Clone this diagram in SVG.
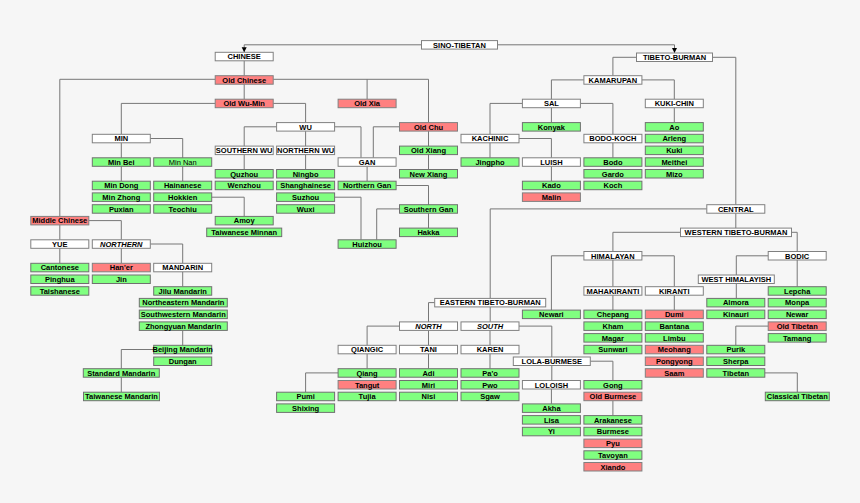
<svg xmlns="http://www.w3.org/2000/svg" width="860" height="503" viewBox="0 0 860 503">
<style>
.w{fill:#ffffff;stroke:#808080;stroke-width:1}
.g{fill:#80ff80;stroke:#707070;stroke-width:1}
.r{fill:#ff8080;stroke:#808080;stroke-width:1}
text{font-family:"Liberation Sans",Arial,sans-serif;font-size:7.5px;font-weight:bold;text-anchor:middle;fill:#000}
.i{font-style:italic}
.n{font-weight:normal}
#connectors path{fill:none;stroke:#777;stroke-width:1}
</style>
<defs>
<marker id="arr" markerUnits="userSpaceOnUse" markerWidth="6" markerHeight="6" refX="5" refY="2.5" orient="auto"><path d="M0,0 L5,2.5 L0,5 z" fill="#000"/></marker>
</defs>
<rect x="0" y="0" width="860" height="503" fill="#f6f6f6"/>
<g id="connectors">
<path d="M421.5,44.8 H244.2 V52.3" marker-end="url(#arr)"/>
<path d="M497.5,44.8 H674.5 V53" marker-end="url(#arr)"/>
<path d="M244.2,60.8 V75.7"/>
<path d="M244.2,84.2 V99.2"/>
<path d="M273.2,79.3 H428.5 V122.6"/>
<path d="M367.1,79.3 V99.2"/>
<path d="M215.2,79.3 H59.8 V216.4"/>
<path d="M215.2,103.4 H121.3 V134.3"/>
<path d="M273.2,103.4 H305.6 V122.6"/>
<path d="M276.6,126.8 H244.2 V146.1"/>
<path d="M305.6,131.1 V146.1"/>
<path d="M334.6,126.8 H361 V157.8"/>
<path d="M399.5,126.8 H373.3 V157.8"/>
<path d="M428.5,131.1 V169.5"/>
<path d="M121.3,142.8 V181.2"/>
<path d="M150.3,138.5 H182.7 V181.2"/>
<path d="M244.2,154.6 V169.5"/>
<path d="M305.6,154.6 V169.5"/>
<path d="M367.1,166.3 V181.2"/>
<path d="M396.1,185.5 H428.5 V228.1"/>
<path d="M211.7,197.2 H244.2 V216.4"/>
<path d="M334.6,197.2 H361 V239.8"/>
<path d="M399.5,208.9 H376.7 V239.8"/>
<path d="M88.8,220.6 H121.3 V239.8"/>
<path d="M59.8,224.9 V239.8"/>
<path d="M59.8,248.3 V263.3"/>
<path d="M121.3,248.3 V263.3"/>
<path d="M150.3,244 H182.7 V263.3"/>
<path d="M182.7,271.8 V286.7"/>
<path d="M182.7,330.4 V345.3"/>
<path d="M153.7,349.5 H121.3 V368.7"/>
<path d="M121.3,377.2 V392.2"/>
<path d="M636.5,57.3 H612.9 V75.7"/>
<path d="M712.5,57.3 H735.8 V204.7"/>
<path d="M583.9,79.9 H551.4 V99.2"/>
<path d="M641.9,79.9 H674.3 V99.2"/>
<path d="M674.3,107.7 V122.6"/>
<path d="M522.4,103.4 H490 V134.3"/>
<path d="M551.4,107.7 V122.6"/>
<path d="M580.4,103.4 H612.9 V134.3"/>
<path d="M490,142.8 V157.8"/>
<path d="M519,138.5 H551.4 V157.8"/>
<path d="M551.4,166.3 V181.2"/>
<path d="M612.9,142.8 V157.8"/>
<path d="M735.8,213.2 V228.1"/>
<path d="M706.8,208.9 H490.2 V298.4"/>
<path d="M680.5,232.3 H612.9 V251.5"/>
<path d="M791.5,232.3 H797.2 V251.5"/>
<path d="M583.9,255.8 H551.4 V310.1"/>
<path d="M612.9,260 V286.7"/>
<path d="M641.9,255.8 H674.3 V286.7"/>
<path d="M612.9,295.2 V310.1"/>
<path d="M674.3,295.2 V310.1"/>
<path d="M768.2,255.8 H736.3 V275"/>
<path d="M797.2,260 V286.7"/>
<path d="M736.3,283.5 V298.4"/>
<path d="M768.2,326.1 H735.8 V345.3"/>
<path d="M764.8,372.9 H797.3 V392.2"/>
<path d="M434.7,302.6 H428.5 V321.9"/>
<path d="M490.2,306.9 V321.9"/>
<path d="M399.5,326.1 H367.1 V345.3"/>
<path d="M428.5,330.4 V345.3"/>
<path d="M490,330.4 V345.3"/>
<path d="M519,326.1 H551.8 V380.5"/>
<path d="M590.3,361.2 H612.9 V380.5"/>
<path d="M551.4,389 V403.9"/>
<path d="M612.9,400.7 V415.6"/>
<path d="M367.1,353.8 V368.7"/>
<path d="M338.1,372.9 H305.6 V392.2"/>
<path d="M428.5,353.8 V368.7"/>
<path d="M490,353.8 V368.7"/>
</g>
<g id="sino-tibetan"><rect class="w" x="421.5" y="40.6" width="76" height="8.5"/><text x="459.5" y="47.6">SINO-TIBETAN</text></g>
<g id="chinese"><rect class="w" x="215.2" y="52.3" width="58" height="8.5"/><text x="244.2" y="59.3">CHINESE</text></g>
<g id="old-chinese"><rect class="r" x="215.2" y="75.7" width="58" height="8.5"/><text x="244.2" y="82.7">Old Chinese</text></g>
<g id="old-wu-min"><rect class="r" x="215.2" y="99.2" width="58" height="8.5"/><text x="244.2" y="106.2">Old Wu-Min</text></g>
<g id="old-xia"><rect class="r" x="338.1" y="99.2" width="58" height="8.5"/><text x="367.1" y="106.2">Old Xia</text></g>
<g id="wu"><rect class="w" x="276.6" y="122.6" width="58" height="8.5"/><text x="305.6" y="129.6">WU</text></g>
<g id="old-chu"><rect class="r" x="399.5" y="122.6" width="58" height="8.5"/><text x="428.5" y="129.6">Old Chu</text></g>
<g id="min"><rect class="w" x="92.3" y="134.3" width="58" height="8.5"/><text x="121.3" y="141.3">MIN</text></g>
<g id="southern-wu"><rect class="w" x="215.2" y="146.1" width="58" height="8.5"/><text x="244.2" y="153.1">SOUTHERN WU</text></g>
<g id="northern-wu"><rect class="w" x="276.6" y="146.1" width="58" height="8.5"/><text x="305.6" y="153.1">NORTHERN WU</text></g>
<g id="old-xiang"><rect class="g" x="399.5" y="146.1" width="58" height="8.5"/><text x="428.5" y="153.1">Old Xiang</text></g>
<g id="gan"><rect class="w" x="338.1" y="157.8" width="58" height="8.5"/><text x="367.1" y="164.8">GAN</text></g>
<g id="min-bei"><rect class="g" x="92.3" y="157.8" width="58" height="8.5"/><text x="121.3" y="164.8">Min Bei</text></g>
<g id="min-nan"><rect class="g" x="153.7" y="157.8" width="58" height="8.5"/><text class="n" x="182.7" y="164.8">Min Nan</text></g>
<g id="quzhou"><rect class="g" x="215.2" y="169.5" width="58" height="8.5"/><text x="244.2" y="176.5">Quzhou</text></g>
<g id="ningbo"><rect class="g" x="276.6" y="169.5" width="58" height="8.5"/><text x="305.6" y="176.5">Ningbo</text></g>
<g id="new-xiang"><rect class="g" x="399.5" y="169.5" width="58" height="8.5"/><text x="428.5" y="176.5">New Xiang</text></g>
<g id="min-dong"><rect class="g" x="92.3" y="181.2" width="58" height="8.5"/><text x="121.3" y="188.2">Min Dong</text></g>
<g id="hainanese"><rect class="g" x="153.7" y="181.2" width="58" height="8.5"/><text x="182.7" y="188.2">Hainanese</text></g>
<g id="wenzhou"><rect class="g" x="215.2" y="181.2" width="58" height="8.5"/><text x="244.2" y="188.2">Wenzhou</text></g>
<g id="shanghainese"><rect class="g" x="276.6" y="181.2" width="58" height="8.5"/><text x="305.6" y="188.2">Shanghainese</text></g>
<g id="northern-gan"><rect class="g" x="338.1" y="181.2" width="58" height="8.5"/><text x="367.1" y="188.2">Northern Gan</text></g>
<g id="min-zhong"><rect class="g" x="92.3" y="192.9" width="58" height="8.5"/><text x="121.3" y="199.9">Min Zhong</text></g>
<g id="hokkien"><rect class="g" x="153.7" y="192.9" width="58" height="8.5"/><text x="182.7" y="199.9">Hokkien</text></g>
<g id="suzhou"><rect class="g" x="276.6" y="192.9" width="58" height="8.5"/><text x="305.6" y="199.9">Suzhou</text></g>
<g id="puxian"><rect class="g" x="92.3" y="204.7" width="58" height="8.5"/><text x="121.3" y="211.7">Puxian</text></g>
<g id="teochiu"><rect class="g" x="153.7" y="204.7" width="58" height="8.5"/><text x="182.7" y="211.7">Teochiu</text></g>
<g id="wuxi"><rect class="g" x="276.6" y="204.7" width="58" height="8.5"/><text x="305.6" y="211.7">Wuxi</text></g>
<g id="southern-gan"><rect class="g" x="399.5" y="204.7" width="58" height="8.5"/><text x="428.5" y="211.7">Southern Gan</text></g>
<g id="middle-chinese"><rect class="r" x="30.8" y="216.4" width="58" height="8.5"/><text x="59.8" y="223.4">Middle Chinese</text></g>
<g id="amoy"><rect class="g" x="215.2" y="216.4" width="58" height="8.5"/><text x="244.2" y="223.4">Amoy</text></g>
<g id="taiwanese-minnan"><rect class="g" x="206.7" y="228.1" width="75" height="8.5"/><text x="244.2" y="235.1">Taiwanese Minnan</text></g>
<g id="hakka"><rect class="g" x="399.5" y="228.1" width="58" height="8.5"/><text x="428.5" y="235.1">Hakka</text></g>
<g id="yue"><rect class="w" x="30.8" y="239.8" width="58" height="8.5"/><text x="59.8" y="246.8">YUE</text></g>
<g id="northern"><rect class="w" x="92.3" y="239.8" width="58" height="8.5"/><text class="i" x="121.3" y="246.8">NORTHERN</text></g>
<g id="huizhou"><rect class="g" x="338.1" y="239.8" width="58" height="8.5"/><text x="367.1" y="246.8">Huizhou</text></g>
<g id="cantonese"><rect class="g" x="30.8" y="263.3" width="58" height="8.5"/><text x="59.8" y="270.3">Cantonese</text></g>
<g id="haner"><rect class="r" x="92.3" y="263.3" width="58" height="8.5"/><text x="121.3" y="270.3">Han'er</text></g>
<g id="mandarin"><rect class="w" x="153.7" y="263.3" width="58" height="8.5"/><text x="182.7" y="270.3">MANDARIN</text></g>
<g id="pinghua"><rect class="g" x="30.8" y="275" width="58" height="8.5"/><text x="59.8" y="282">Pinghua</text></g>
<g id="jin"><rect class="g" x="92.3" y="275" width="58" height="8.5"/><text x="121.3" y="282">Jin</text></g>
<g id="taishanese"><rect class="g" x="30.8" y="286.7" width="58" height="8.5"/><text x="59.8" y="293.7">Taishanese</text></g>
<g id="jilu-mandarin"><rect class="g" x="153.7" y="286.7" width="58" height="8.5"/><text x="182.7" y="293.7">Jilu Mandarin</text></g>
<g id="northeastern-mandarin"><rect class="g" x="139.3" y="298.4" width="88" height="8.5"/><text x="183.3" y="305.4">Northeastern Mandarin</text></g>
<g id="southwestern-mandarin"><rect class="g" x="139.3" y="310.1" width="88" height="8.5"/><text x="183.3" y="317.1">Southwestern Mandarin</text></g>
<g id="zhongyuan-mandarin"><rect class="g" x="139.3" y="321.9" width="88" height="8.5"/><text x="183.3" y="328.9">Zhongyuan Mandarin</text></g>
<g id="beijing-mandarin"><rect class="g" x="153.7" y="345.3" width="58" height="8.5"/><text x="182.7" y="352.3">Beijing Mandarin</text></g>
<g id="dungan"><rect class="g" x="153.7" y="357" width="58" height="8.5"/><text x="182.7" y="364">Dungan</text></g>
<g id="standard-mandarin"><rect class="g" x="83.3" y="368.7" width="76" height="8.5"/><text x="121.3" y="375.7">Standard Mandarin</text></g>
<g id="taiwanese-mandarin"><rect class="g" x="83.5" y="392.2" width="76" height="8.5"/><text x="121.5" y="399.2">Taiwanese Mandarin</text></g>
<g id="tibeto-burman"><rect class="w" x="636.5" y="53" width="76" height="8.5"/><text x="674.5" y="60">TIBETO-BURMAN</text></g>
<g id="kamarupan"><rect class="w" x="583.9" y="75.7" width="58" height="8.5"/><text x="612.9" y="82.7">KAMARUPAN</text></g>
<g id="sal"><rect class="w" x="522.4" y="99.2" width="58" height="8.5"/><text x="551.4" y="106.2">SAL</text></g>
<g id="kuki-chin"><rect class="w" x="645.3" y="99.2" width="58" height="8.5"/><text x="674.3" y="106.2">KUKI-CHIN</text></g>
<g id="konyak"><rect class="g" x="522.4" y="122.6" width="58" height="8.5"/><text x="551.4" y="129.6">Konyak</text></g>
<g id="ao"><rect class="g" x="645.3" y="122.6" width="58" height="8.5"/><text x="674.3" y="129.6">Ao</text></g>
<g id="kachinic"><rect class="w" x="461" y="134.3" width="58" height="8.5"/><text x="490" y="141.3">KACHINIC</text></g>
<g id="bodo-koch"><rect class="w" x="583.9" y="134.3" width="58" height="8.5"/><text x="612.9" y="141.3">BODO-KOCH</text></g>
<g id="arleng"><rect class="g" x="645.3" y="134.3" width="58" height="8.5"/><text x="674.3" y="141.3">Arleng</text></g>
<g id="kuki"><rect class="g" x="645.3" y="146.1" width="58" height="8.5"/><text x="674.3" y="153.1">Kuki</text></g>
<g id="jingpho"><rect class="g" x="461" y="157.8" width="58" height="8.5"/><text x="490" y="164.8">Jingpho</text></g>
<g id="luish"><rect class="w" x="522.4" y="157.8" width="58" height="8.5"/><text x="551.4" y="164.8">LUISH</text></g>
<g id="bodo"><rect class="g" x="583.9" y="157.8" width="58" height="8.5"/><text x="612.9" y="164.8">Bodo</text></g>
<g id="meithei"><rect class="g" x="645.3" y="157.8" width="58" height="8.5"/><text x="674.3" y="164.8">Meithei</text></g>
<g id="gardo"><rect class="g" x="583.9" y="169.5" width="58" height="8.5"/><text x="612.9" y="176.5">Gardo</text></g>
<g id="mizo"><rect class="g" x="645.3" y="169.5" width="58" height="8.5"/><text x="674.3" y="176.5">Mizo</text></g>
<g id="kado"><rect class="g" x="522.4" y="181.2" width="58" height="8.5"/><text x="551.4" y="188.2">Kado</text></g>
<g id="koch"><rect class="g" x="583.9" y="181.2" width="58" height="8.5"/><text x="612.9" y="188.2">Koch</text></g>
<g id="malin"><rect class="r" x="522.4" y="192.9" width="58" height="8.5"/><text x="551.4" y="199.9">Malin</text></g>
<g id="central"><rect class="w" x="706.8" y="204.7" width="58" height="8.5"/><text x="735.8" y="211.7">CENTRAL</text></g>
<g id="western-tibeto-burman"><rect class="w" x="680.5" y="228.1" width="111" height="8.5"/><text x="736" y="235.1">WESTERN TIBETO-BURMAN</text></g>
<g id="himalayan"><rect class="w" x="583.9" y="251.5" width="58" height="8.5"/><text x="612.9" y="258.5">HIMALAYAN</text></g>
<g id="bodic"><rect class="w" x="768.2" y="251.5" width="58" height="8.5"/><text x="797.2" y="258.5">BODIC</text></g>
<g id="west-himalayish"><rect class="w" x="698.3" y="275" width="76" height="8.5"/><text x="736.3" y="282">WEST HIMALAYISH</text></g>
<g id="mahakiranti"><rect class="w" x="583.9" y="286.7" width="58" height="8.5"/><text x="612.9" y="293.7">MAHAKIRANTI</text></g>
<g id="kiranti"><rect class="w" x="645.3" y="286.7" width="58" height="8.5"/><text x="674.3" y="293.7">KIRANTI</text></g>
<g id="lepcha"><rect class="g" x="768.2" y="286.7" width="58" height="8.5"/><text x="797.2" y="293.7">Lepcha</text></g>
<g id="eastern-tibeto-burman"><rect class="w" x="434.7" y="298.4" width="111" height="8.5"/><text x="490.2" y="305.4">EASTERN TIBETO-BURMAN</text></g>
<g id="almora"><rect class="g" x="706.8" y="298.4" width="58" height="8.5"/><text x="735.8" y="305.4">Almora</text></g>
<g id="monpa"><rect class="g" x="768.2" y="298.4" width="58" height="8.5"/><text x="797.2" y="305.4">Monpa</text></g>
<g id="newari"><rect class="g" x="522.4" y="310.1" width="58" height="8.5"/><text x="551.4" y="317.1">Newari</text></g>
<g id="chepang"><rect class="g" x="583.9" y="310.1" width="58" height="8.5"/><text x="612.9" y="317.1">Chepang</text></g>
<g id="dumi"><rect class="r" x="645.3" y="310.1" width="58" height="8.5"/><text x="674.3" y="317.1">Dumi</text></g>
<g id="kinauri"><rect class="g" x="706.8" y="310.1" width="58" height="8.5"/><text x="735.8" y="317.1">Kinauri</text></g>
<g id="newar"><rect class="g" x="768.2" y="310.1" width="58" height="8.5"/><text x="797.2" y="317.1">Newar</text></g>
<g id="north"><rect class="w" x="399.5" y="321.9" width="58" height="8.5"/><text class="i" x="428.5" y="328.9">NORTH</text></g>
<g id="south"><rect class="w" x="461" y="321.9" width="58" height="8.5"/><text class="i" x="490" y="328.9">SOUTH</text></g>
<g id="kham"><rect class="g" x="583.9" y="321.9" width="58" height="8.5"/><text x="612.9" y="328.9">Kham</text></g>
<g id="bantana"><rect class="g" x="645.3" y="321.9" width="58" height="8.5"/><text x="674.3" y="328.9">Bantana</text></g>
<g id="old-tibetan"><rect class="r" x="768.2" y="321.9" width="58" height="8.5"/><text x="797.2" y="328.9">Old Tibetan</text></g>
<g id="magar"><rect class="g" x="583.9" y="333.6" width="58" height="8.5"/><text x="612.9" y="340.6">Magar</text></g>
<g id="limbu"><rect class="g" x="645.3" y="333.6" width="58" height="8.5"/><text x="674.3" y="340.6">Limbu</text></g>
<g id="tamang"><rect class="g" x="768.2" y="333.6" width="58" height="8.5"/><text x="797.2" y="340.6">Tamang</text></g>
<g id="qiangic"><rect class="w" x="338.1" y="345.3" width="58" height="8.5"/><text x="367.1" y="352.3">QIANGIC</text></g>
<g id="tani"><rect class="w" x="399.5" y="345.3" width="58" height="8.5"/><text x="428.5" y="352.3">TANI</text></g>
<g id="karen"><rect class="w" x="461" y="345.3" width="58" height="8.5"/><text x="490" y="352.3">KAREN</text></g>
<g id="sunwari"><rect class="g" x="583.9" y="345.3" width="58" height="8.5"/><text x="612.9" y="352.3">Sunwari</text></g>
<g id="meohang"><rect class="r" x="645.3" y="345.3" width="58" height="8.5"/><text x="674.3" y="352.3">Meohang</text></g>
<g id="purik"><rect class="g" x="706.8" y="345.3" width="58" height="8.5"/><text x="735.8" y="352.3">Purik</text></g>
<g id="lola-burmese"><rect class="w" x="513.3" y="357" width="77" height="8.5"/><text x="551.8" y="364">LOLA-BURMESE</text></g>
<g id="pongyong"><rect class="r" x="645.3" y="357" width="58" height="8.5"/><text x="674.3" y="364">Pongyong</text></g>
<g id="sherpa"><rect class="g" x="706.8" y="357" width="58" height="8.5"/><text x="735.8" y="364">Sherpa</text></g>
<g id="qiang"><rect class="g" x="338.1" y="368.7" width="58" height="8.5"/><text x="367.1" y="375.7">Qiang</text></g>
<g id="adi"><rect class="g" x="399.5" y="368.7" width="58" height="8.5"/><text x="428.5" y="375.7">Adi</text></g>
<g id="pao"><rect class="g" x="461" y="368.7" width="58" height="8.5"/><text x="490" y="375.7">Pa'o</text></g>
<g id="saam"><rect class="r" x="645.3" y="368.7" width="58" height="8.5"/><text x="674.3" y="375.7">Saam</text></g>
<g id="tibetan"><rect class="g" x="706.8" y="368.7" width="58" height="8.5"/><text x="735.8" y="375.7">Tibetan</text></g>
<g id="tangut"><rect class="r" x="338.1" y="380.5" width="58" height="8.5"/><text x="367.1" y="387.5">Tangut</text></g>
<g id="miri"><rect class="g" x="399.5" y="380.5" width="58" height="8.5"/><text x="428.5" y="387.5">Miri</text></g>
<g id="pwo"><rect class="g" x="461" y="380.5" width="58" height="8.5"/><text x="490" y="387.5">Pwo</text></g>
<g id="loloish"><rect class="w" x="522.4" y="380.5" width="58" height="8.5"/><text x="551.4" y="387.5">LOLOISH</text></g>
<g id="gong"><rect class="g" x="583.9" y="380.5" width="58" height="8.5"/><text x="612.9" y="387.5">Gong</text></g>
<g id="pumi"><rect class="g" x="276.6" y="392.2" width="58" height="8.5"/><text x="305.6" y="399.2">Pumi</text></g>
<g id="tujia"><rect class="g" x="338.1" y="392.2" width="58" height="8.5"/><text x="367.1" y="399.2">Tujia</text></g>
<g id="nisi"><rect class="g" x="399.5" y="392.2" width="58" height="8.5"/><text x="428.5" y="399.2">Nisi</text></g>
<g id="sgaw"><rect class="g" x="461" y="392.2" width="58" height="8.5"/><text x="490" y="399.2">Sgaw</text></g>
<g id="old-burmese"><rect class="r" x="583.9" y="392.2" width="58" height="8.5"/><text x="612.9" y="399.2">Old Burmese</text></g>
<g id="classical-tibetan"><rect class="g" x="765.3" y="392.2" width="64" height="8.5"/><text x="797.3" y="399.2">Classical Tibetan</text></g>
<g id="shixing"><rect class="g" x="276.6" y="403.9" width="58" height="8.5"/><text x="305.6" y="410.9">Shixing</text></g>
<g id="akha"><rect class="g" x="522.4" y="403.9" width="58" height="8.5"/><text x="551.4" y="410.9">Akha</text></g>
<g id="lisa"><rect class="g" x="522.4" y="415.6" width="58" height="8.5"/><text x="551.4" y="422.6">Lisa</text></g>
<g id="arakanese"><rect class="g" x="583.9" y="415.6" width="58" height="8.5"/><text x="612.9" y="422.6">Arakanese</text></g>
<g id="yi"><rect class="g" x="522.4" y="427.3" width="58" height="8.5"/><text x="551.4" y="434.3">Yi</text></g>
<g id="burmese"><rect class="g" x="583.9" y="427.3" width="58" height="8.5"/><text x="612.9" y="434.3">Burmese</text></g>
<g id="pyu"><rect class="r" x="583.9" y="439.1" width="58" height="8.5"/><text x="612.9" y="446.1">Pyu</text></g>
<g id="tavoyan"><rect class="g" x="583.9" y="450.8" width="58" height="8.5"/><text x="612.9" y="457.8">Tavoyan</text></g>
<g id="xiando"><rect class="r" x="583.9" y="462.5" width="58" height="8.5"/><text x="612.9" y="469.5">Xiando</text></g>
</svg>
